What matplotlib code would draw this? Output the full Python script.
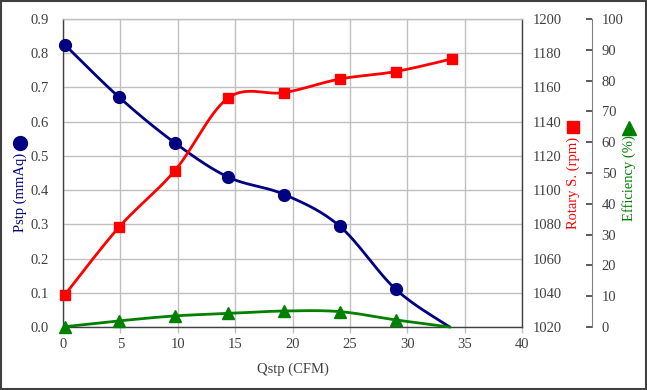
import numpy as np
import matplotlib
matplotlib.use("Agg")
import matplotlib.pyplot as plt
from matplotlib.lines import Line2D
from matplotlib.patches import Rectangle

plt.rcParams['font.family'] = ['Liberation Serif', 'DejaVu Serif']

# ---- data ----
qstp = [0.15, 4.9, 9.75, 14.4, 19.3, 24.1, 29.0, 33.7]
pstp = [0.825, 0.671, 0.538, 0.438, 0.387, 0.295, 0.110, 0.0]
rpm_x = [0.15, 4.9, 9.75, 14.4, 19.3, 24.1, 29.0, 33.9]
rpm = [1038.7, 1078.5, 1111.4, 1153.9, 1157.0, 1164.9, 1169.3, 1176.7]
eff = [0.1, 2.0, 3.6, 4.4, 5.2, 5.0, 2.3, 0.0]

x_ticks = [0, 5, 10, 15, 20, 25, 30, 35, 40]
p_ticks = [0.0, 0.1, 0.2, 0.3, 0.4, 0.5, 0.6, 0.7, 0.8, 0.9]
rpm_ticks = [1020, 1040, 1060, 1080, 1100, 1120, 1140, 1160, 1180, 1200]
eff_ticks = [0, 10, 20, 30, 40, 50, 60, 70, 80, 90, 100]

NAVY = '#000080'
RED = '#FF0000'
GREEN = '#008000'
TXT = '#404040'
FS = 10.5


def smooth(xs, ys, n=30, t=1/6):
    P = np.column_stack([xs, ys]).astype(float)
    out = [P[0]]
    m = len(P)
    for i in range(m - 1):
        p0 = P[i - 1] if i > 0 else P[i]
        p1 = P[i]
        p2 = P[i + 1]
        p3 = P[i + 2] if i + 2 < m else P[i + 1]
        c1 = p1 + (p2 - p0) * t
        c2 = p2 - (p3 - p1) * t
        s = np.linspace(0, 1, n)[1:, None]
        seg = ((1 - s) ** 3) * p1 + 3 * ((1 - s) ** 2) * s * c1 + 3 * (1 - s) * s ** 2 * c2 + s ** 3 * p2
        out.extend(seg)
    out = np.array(out)
    return out[:, 0], out[:, 1]


fig = plt.figure(figsize=(6.47, 3.90), dpi=100)
fig.patch.set_facecolor('white')
ax = fig.add_axes([63 / 647, 1 - 327 / 390, (522 - 63) / 647, (327 - 19) / 390])
ax2 = ax.twinx()
ax3 = ax.twinx()

# primary axis
ax.set_xlim(0, 40)
ax.set_ylim(0, 0.9)
ax.set_xticks(x_ticks)
ax.set_yticks(p_ticks)
ax.set_yticklabels([f'{v:.1f}' for v in p_ticks])
ax.grid(True, color='#c0c0c0', linewidth=1.0)
ax.set_axisbelow(True)
ax.tick_params(axis='y', length=0, pad=10, labelsize=FS, colors=TXT)
ax.tick_params(axis='x', length=4, width=1, color='#c0c0c0', pad=4, labelsize=FS, labelcolor=TXT)
for s in ax.spines.values():
    s.set_color(TXT)
    s.set_linewidth(1.0)
ax.spines['top'].set_color('#c0c0c0')
ax.set_xlabel('Qstp (CFM)', fontsize=FS, color=TXT, labelpad=8)

# rpm axis
ax2.set_ylim(1020, 1200)
ax2.set_yticks(rpm_ticks)
ax2.tick_params(axis='y', length=0, pad=7.5, labelsize=FS, colors=TXT)
for s in ax2.spines.values():
    s.set_visible(False)

# efficiency axis
ax3.set_ylim(0, 100)
ax3.set_yticks(eff_ticks)
ax3.spines['right'].set_position(('axes', (592 - 63) / (522 - 63)))
for k, s in ax3.spines.items():
    s.set_visible(k == 'right')
ax3.spines['right'].set_color('#808080')
ax3.tick_params(axis='y', direction='in', length=4, width=1.2, color='#404040', pad=7,
                labelsize=FS, labelcolor=TXT)

# series
sx, sy = smooth(qstp, pstp)
ax.plot(sx, sy, color=NAVY, lw=2.0, zorder=3, solid_capstyle='round')
ax.plot(qstp[:-1], pstp[:-1], 'o', color=NAVY, ms=8.5, zorder=4, clip_on=False)

ex, ey = smooth(qstp, eff)
ax3.plot(ex, ey, color=GREEN, lw=2.0, zorder=3, clip_on=False)
ax3.plot(qstp[:-1], eff[:-1], '^', color=GREEN, ms=8, zorder=4, clip_on=False)

rx, ry = smooth(rpm_x, rpm)
ax2.plot(rx, ry, color=RED, lw=2.0, zorder=3)
ax2.plot(rpm_x, rpm, 's', color=RED, ms=7.5, zorder=4, clip_on=False)

# axis labels with markers
W, H = 647, 390
def fx(px):
    return px / W
def fy(py):
    return 1 - py / H

fig.text(fx(20), fy(192), 'Pstp (mmAq)', rotation=90, ha='center', va='center', color=NAVY, fontsize=FS)
fig.add_artist(Line2D([fx(20)], [fy(143)], marker='o', ms=10, color=NAVY, transform=fig.transFigure))
fig.text(fx(573), fy(183), 'Rotary S. (rpm)', rotation=90, ha='center', va='center', color=RED, fontsize=FS)
fig.add_artist(Line2D([fx(573)], [fy(127)], marker='s', ms=9, color=RED, transform=fig.transFigure))
fig.text(fx(629), fy(178), 'Efficiency (%)', rotation=90, ha='center', va='center', color=GREEN, fontsize=FS)
fig.add_artist(Line2D([fx(629)], [fy(128)], marker='^', ms=10, color=GREEN, transform=fig.transFigure))

# figure frame
fig.add_artist(Rectangle((0.001, 0.002), 0.997, 0.995, transform=fig.transFigure, fill=False,
                         edgecolor='#404040', linewidth=1.5))

fig.savefig('out.png', dpi=100)
